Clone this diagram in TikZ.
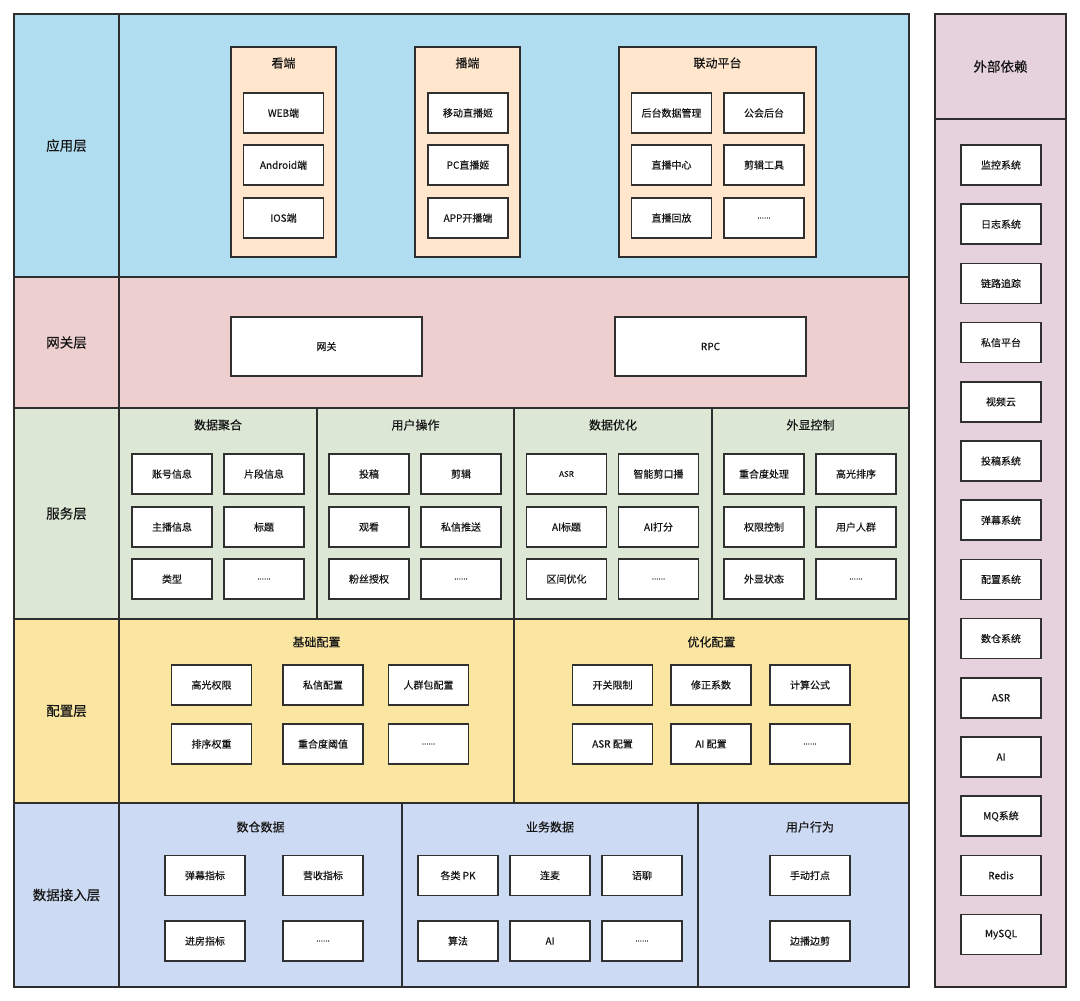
\documentclass[tikz,border=0pt]{standalone}
\usepackage{fontspec}
\setmainfont{Noto Sans CJK SC}[FakeBold=0.3]
\begin{document}
\begin{tikzpicture}[x=1pt,y=-1pt,
  frame/.style={draw=linec,line width=1.1pt},
  item/.style={draw=boxline,line width=1.5pt,fill=white,minimum width=80pt,minimum height=40pt,
    inner sep=0pt,text=txt,font=\fontsize{10}{12}\selectfont},
  widebox/.style={item,minimum width=191pt,minimum height=59pt},
  layerlabel/.style={text=txt,font=\fontsize{13.5}{16}\selectfont},
  grouptitle/.style={text=txt,font=\fontsize{12}{14}\selectfont},
  dots/.style={font=\fontsize{8}{10}\selectfont}]
\definecolor{linec}{HTML}{2E2E2E}
\definecolor{boxline}{HTML}{303030}
\definecolor{txt}{HTML}{151515}
\definecolor{appc}{HTML}{B1DDF0}
\definecolor{orangec}{HTML}{FFE6CC}
\definecolor{gwc}{HTML}{EECFCF}
\definecolor{svcc}{HTML}{DCE8D5}
\definecolor{cfgc}{HTML}{FAE5A1}
\definecolor{datac}{HTML}{CDDAF3}
\definecolor{extc}{HTML}{E6D2DC}

\useasboundingbox (0,0) rectangle (1080,1001);

% ---- layer bands ----
\draw[frame,fill=appc]  (14,14)  rectangle (909,277);
\draw[frame,fill=gwc]   (14,277) rectangle (909,408);
\draw[frame,fill=svcc]  (14,408) rectangle (909,619);
\draw[frame,fill=cfgc]  (14,619) rectangle (909,803);
\draw[frame,fill=datac] (14,803) rectangle (909,987);
\draw[frame] (119,14) -- (119,987);
% column dividers
\draw[frame] (317,408) -- (317,619);
\draw[frame] (514,408) -- (514,619);
\draw[frame] (712,408) -- (712,619);
\draw[frame] (514,619) -- (514,803);
\draw[frame] (402,803) -- (402,987);
\draw[frame] (698,803) -- (698,987);

% ---- layer labels ----
\node[layerlabel] (lapp) at (66.5,145.5) {应用层};
\node[layerlabel] (lgw)  at (66.5,342.5) {网关层};
\node[layerlabel] (lsvc) at (66.5,513.5) {服务层};
\node[layerlabel] (lcfg) at (66.5,711)   {配置层};
\node[layerlabel] (ldat) at (66.5,895)   {数据接入层};

% ---- application layer ----
\draw[frame,fill=orangec] (231,47) rectangle (336,257);
\draw[frame,fill=orangec] (415,47) rectangle (520,257);
\draw[frame,fill=orangec] (619,47) rectangle (816,257);
\node[grouptitle] (tview) at (283.5,63) {看端};
\node[grouptitle] (tcast) at (467.5,63) {播端};
\node[grouptitle] (tlink) at (717.5,63) {联动平台};

\node[item] (v1) at (283.5,113) {WEB端};
\node[item] (v2) at (283.5,165) {Android端};
\node[item] (v3) at (283.5,218) {IOS端};
\node[item] (c1) at (468,113) {移动直播姬};
\node[item] (c2) at (468,165) {PC直播姬};
\node[item] (c3) at (468,218) {APP开播端};
\node[item] (p1) at (671.5,113) {后台数据管理};
\node[item] (p2) at (764,113)   {公会后台};
\node[item] (p3) at (671.5,165) {直播中心};
\node[item] (p4) at (764,165)   {剪辑工具};
\node[item] (p5) at (671.5,218) {直播回放};
\node[item,dots] (p6) at (764,218) {......};

% ---- gateway layer ----
\node[widebox] (gw)  at (326.5,346.5) {网关};
\node[widebox] (rpc) at (710.5,346.5) {RPC};

% ---- service layer ----
\node[grouptitle] (ts1) at (218,425) {数据聚合};
\node[grouptitle] (ts2) at (415.5,425) {用户操作};
\node[grouptitle] (ts3) at (613,425) {数据优化};
\node[grouptitle] (ts4) at (810.5,425) {外显控制};

\node[item] (s11) at (172,474) {账号信息};
\node[item] (s12) at (264,474) {片段信息};
\node[item] (s13) at (172,527) {主播信息};
\node[item] (s14) at (264,527) {标题};
\node[item] (s15) at (172,579) {类型};
\node[item,dots] (s16) at (264,579) {......};

\node[item] (s21) at (369,474) {投稿};
\node[item] (s22) at (461,474) {剪辑};
\node[item] (s23) at (369,527) {观看};
\node[item] (s24) at (461,527) {私信推送};
\node[item] (s25) at (369,579) {粉丝授权};
\node[item,dots] (s26) at (461,579) {......};

\node[item,font=\fontsize{8}{10}\selectfont] (s31) at (566.5,474) {ASR};
\node[item] (s32) at (658.5,474) {智能剪口播};
\node[item] (s33) at (566.5,527) {AI标题};
\node[item] (s34) at (658.5,527) {AI打分};
\node[item] (s35) at (566.5,579) {区间优化};
\node[item,dots] (s36) at (658.5,579) {......};

\node[item] (s41) at (764,474) {重合度处理};
\node[item] (s42) at (856,474) {高光排序};
\node[item] (s43) at (764,527) {权限控制};
\node[item] (s44) at (856,527) {用户人群};
\node[item] (s45) at (764,579) {外显状态};
\node[item,dots] (s46) at (856,579) {......};

% ---- configuration layer ----
\node[grouptitle] (tc1) at (316.5,642) {基础配置};
\node[grouptitle] (tc2) at (711.5,642) {优化配置};

\node[item] (b1) at (211.5,685) {高光权限};
\node[item] (b2) at (323,685)   {私信配置};
\node[item] (b3) at (428.5,685) {人群包配置};
\node[item] (b4) at (211.5,744) {排序权重};
\node[item] (b5) at (323,744)   {重合度阈值};
\node[item,dots] (b6) at (428.5,744) {......};

\node[item] (o1) at (612.5,685) {开关限制};
\node[item] (o2) at (711,685)   {修正系数};
\node[item] (o3) at (810,685)   {计算公式};
\node[item] (o4) at (612.5,744) {ASR 配置};
\node[item] (o5) at (711,744)   {AI 配置};
\node[item,dots] (o6) at (810,744) {......};

% ---- data access layer ----
\node[grouptitle] (td1) at (260.5,827) {数仓数据};
\node[grouptitle] (td2) at (550,827)   {业务数据};
\node[grouptitle] (td3) at (810,827)   {用户行为};

\node[item] (d11) at (205,875.5) {弹幕指标};
\node[item] (d12) at (323,875.5) {营收指标};
\node[item] (d13) at (205,941)   {进房指标};
\node[item,dots] (d14) at (323,941) {......};

\node[item] (d21) at (458,875.5) {各类 PK};
\node[item] (d22) at (550,875.5) {连麦};
\node[item] (d23) at (642,875.5) {语聊};
\node[item] (d24) at (458,941)   {算法};
\node[item] (d25) at (550,941)   {AI};
\node[item,dots] (d26) at (642,941) {......};

\node[item] (d31) at (810,875.5) {手动打点};
\node[item] (d32) at (810,941)   {边播边剪};

% ---- external dependencies ----
\draw[frame,fill=extc] (935,14) rectangle (1066,987);
\draw[frame] (935,119) -- (1066,119);
\node[layerlabel] (text) at (1000.5,66.5) {外部依赖};
\foreach \lbl [count=\i from 0] in {监控系统,日志系统,链路追踪,私信平台,视频云,投稿系统,弹幕系统,配置系统,数仓系统,ASR,AI,MQ系统,Redis,MySQL}
  \node[item] (ext\i) at (1001,165+59.2*\i) {\lbl};
\end{tikzpicture}
\end{document}
